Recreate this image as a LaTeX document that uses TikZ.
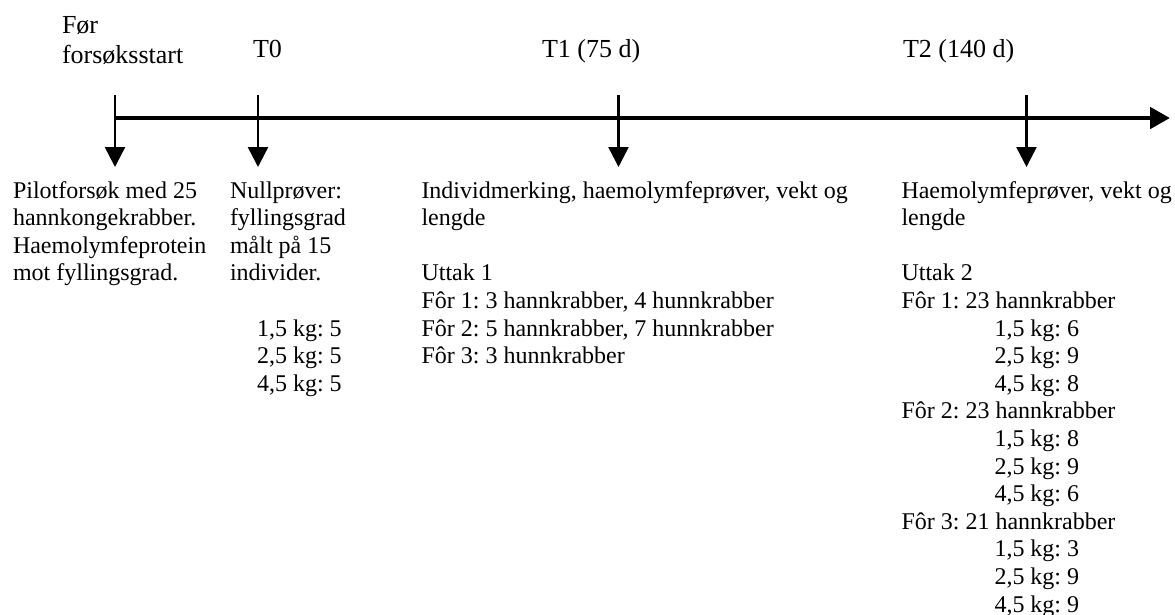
\documentclass[tikz,border=0pt]{standalone}
\usepackage{fontspec}
\setmainfont{Liberation Serif}
\usetikzlibrary{arrows.meta}
\frenchspacing
\begin{document}
\begin{tikzpicture}[x=1pt,y=-1pt,
  body/.style={anchor=base west, inner sep=0pt, outer sep=0pt, align=left, font=\frenchspacing\fontsize{24}{27.6}\selectfont},
  toplabel/.style={anchor=base west, inner sep=0pt, outer sep=0pt, align=left, font=\fontsize{26}{30}\selectfont},
  marker/.style={line width=2.5pt, -{Triangle[length=20pt,width=20pt]}},
  axisline/.style={line width=4.8pt, -{Triangle[length=20pt,width=21pt]}}]
\useasboundingbox (0,0) rectangle (1175,614);

% time axis
\coordinate (axstart) at (115,118);
\coordinate (axend) at (1170,118);
\draw[axisline] (axstart) -- (axend);

% markers
\coordinate (m0top) at (115,95);  \coordinate (m0tip) at (115,167);
\coordinate (m1top) at (258,95);  \coordinate (m1tip) at (258,167);
\coordinate (m2top) at (618.5,95); \coordinate (m2tip) at (618.5,167);
\coordinate (m3top) at (1026.5,95); \coordinate (m3tip) at (1026.5,167);
\draw[marker] (m0top) -- (m0tip);
\draw[marker] (m1top) -- (m1tip);
\draw[marker] (m2top) -- (m2tip);
\draw[marker] (m3top) -- (m3tip);

% top labels (anchor = baseline of last line)
\node[toplabel] (lfor) at (62,63) {Før\\forsøksstart};
\node[toplabel] (lt0) at (253,57) {T0};
\node[toplabel] (lt1) at (542,57) {T1 (75 d)};
\node[toplabel] (lt2) at (903,57) {T2 (140 d)};

% text blocks (anchor = baseline of last line)
\node[body] (p1) at (13,280.8) {Pilotforsøk med 25\\hannkongekrabber.\\Haemolymfeprotein\\mot fyllingsgrad.};
\node[body] (p2) at (230,391.2) {Nullprøver:\\fyllingsgrad\\målt på 15\\individer.\\[27.6pt]\hspace*{27pt}1,5 kg: 5\\\hspace*{27pt}2,5 kg: 5\\\hspace*{27pt}4,5 kg: 5};
\node[body] (p3) at (421.5,363.6) {Individmerking, haemolymfeprøver, vekt og\\lengde\\[27.6pt]Uttak 1\\Fôr 1: 3 hannkrabber, 4 hunnkrabber\\Fôr 2: 5 hannkrabber, 7 hunnkrabber\\Fôr 3: 3 hunnkrabber};
\node[body] (p4) at (901.5,612) {Haemolymfeprøver, vekt og\\lengde\\[27.6pt]Uttak 2\\Fôr 1: 23 hannkrabber\\\hspace*{93pt}1,5 kg: 6\\\hspace*{93pt}2,5 kg: 9\\\hspace*{93pt}4,5 kg: 8\\Fôr 2: 23 hannkrabber\\\hspace*{93pt}1,5 kg: 8\\\hspace*{93pt}2,5 kg: 9\\\hspace*{93pt}4,5 kg: 6\\Fôr 3: 21 hannkrabber\\\hspace*{93pt}1,5 kg: 3\\\hspace*{93pt}2,5 kg: 9\\\hspace*{93pt}4,5 kg: 9};
\end{tikzpicture}
\end{document}
